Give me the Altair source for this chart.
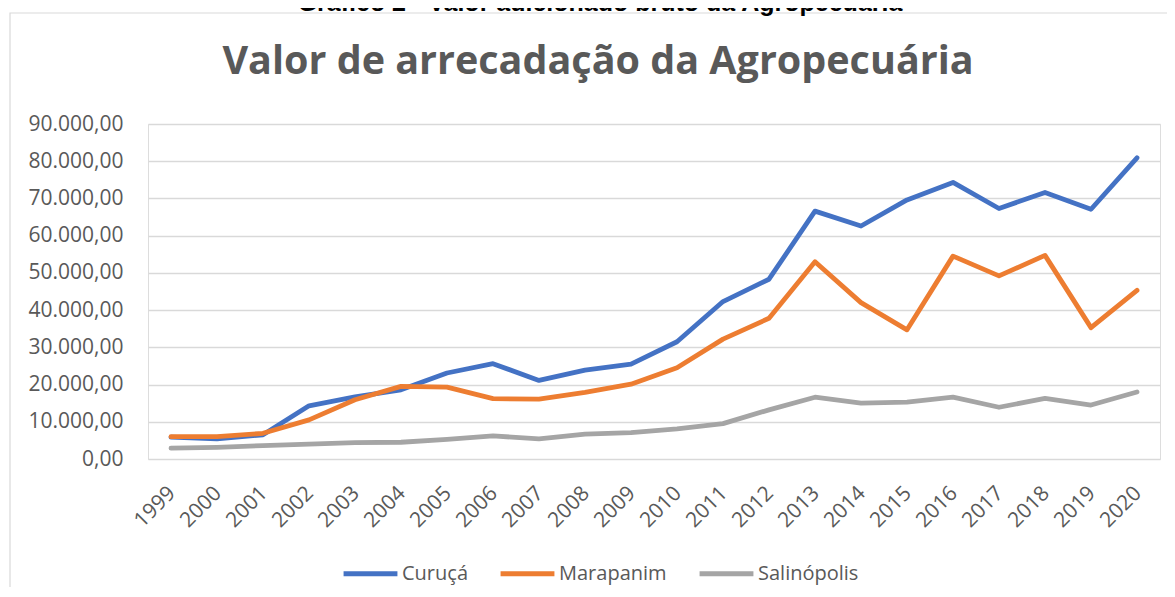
import altair as alt
import pandas as pd

years = [str(y) for y in range(1999, 2021)]
series_names = ["Curuçá", "Marapanim", "Salinópolis"]
series_colors = ["#4472C4", "#ED7D31", "#A5A5A5"]

curuca = [5900, 5400, 6500, 14300, 16700, 18600, 23100, 25600, 21100, 23900, 25500,
          31500, 42300, 48300, 66600, 62600, 69600, 74300, 67300, 71600, 67100, 80900]
marapanim = [6000, 6000, 6900, 10500, 15900, 19500, 19300, 16200, 16100, 17900, 20100,
             24500, 32200, 37800, 53000, 42000, 34700, 54500, 49200, 54700, 35300, 45300]
salinopolis = [2900, 3150, 3600, 4000, 4400, 4500, 5300, 6200, 5400, 6700, 7100,
               8100, 9500, 13200, 16600, 15000, 15300, 16600, 13900, 16300, 14500, 18000]

y_ticks = list(range(0, 90001, 10000))

rows = []
for name, vals in zip(series_names, [curuca, marapanim, salinopolis]):
    for yr, v in zip(years, vals):
        rows.append({"Ano": yr, "Valor": v, "Município": name})
df = pd.DataFrame(rows)

W, H = 1012, 335
FONT = "Open Sans"
GREY = "#595959"

lines = alt.Chart(df).mark_line(
    strokeWidth=4.8, strokeCap="round", strokeJoin="round"
).encode(
    x=alt.X("Ano:O", sort=years,
            scale=alt.Scale(type="point", padding=0.5),
            axis=alt.Axis(title=None, labelAngle=-45, labelFont=FONT, labelFontSize=21,
                          labelColor=GREY, labelPadding=23, labelOffset=-7, domain=False,
                          ticks=False, grid=False)),
    y=alt.Y("Valor:Q",
            scale=alt.Scale(domain=[0, 90000], nice=False, zero=True),
            axis=alt.Axis(title=None, values=y_ticks, format=",.2f", labelFont=FONT,
                          labelFontSize=21, labelColor=GREY, labelPadding=25,
                          domain=False, ticks=False, grid=True, gridColor="#d9d9d9",
                          gridWidth=1.3)),
    color=alt.Color("Município:N",
                    scale=alt.Scale(domain=series_names, range=series_colors),
                    sort=series_names,
                    legend=alt.Legend(title=None, orient="none", direction="horizontal",
                                      legendX=193, legendY=420, symbolType="stroke",
                                      symbolSize=2900, symbolStrokeWidth=5,
                                      labelFont=FONT, labelFontSize=20, labelColor=GREY,
                                      labelOffset=2, columnPadding=22)),
    order=alt.Order("Município:N"),
)

frame_df = pd.DataFrame({"k": [0]})
border = alt.Chart(frame_df).mark_rect(
    fillOpacity=0, stroke="#d9d9d9", strokeWidth=1.2
).encode(
    x=alt.value(-138), x2=alt.value(1040), y=alt.value(-111), y2=alt.value(490)
)

top_caption = alt.Chart(frame_df).mark_text(
    text="Gráfico 2 - Valor adicionado bruto da Agropecuária",
    font="Liberation Sans", fontWeight="bold", fontSize=25, color="#000000",
    align="center", baseline="alphabetic"
).encode(x=alt.value(452), y=alt.value(-113))

main_title = alt.Chart(frame_df).mark_text(
    text="Valor de arrecadação da Agropecuária",
    font=FONT, fontWeight="bold", fontSize=39.5, color=GREY,
    align="center", baseline="alphabetic"
).encode(x=alt.value(450), y=alt.value(-50))

chart = alt.layer(border, top_caption, main_title, lines).properties(
    width=W, height=H,
    autosize="none",
    padding={"left": 140, "top": 116, "right": 7, "bottom": 128},
).configure_view(stroke=None).configure(
    locale={"number": {"decimal": ",", "thousands": ".", "grouping": [3],
                       "currency": ["R$", ""]}}
)

chart.save("out.html", embed_options={"renderer": "svg", "actions": False})
